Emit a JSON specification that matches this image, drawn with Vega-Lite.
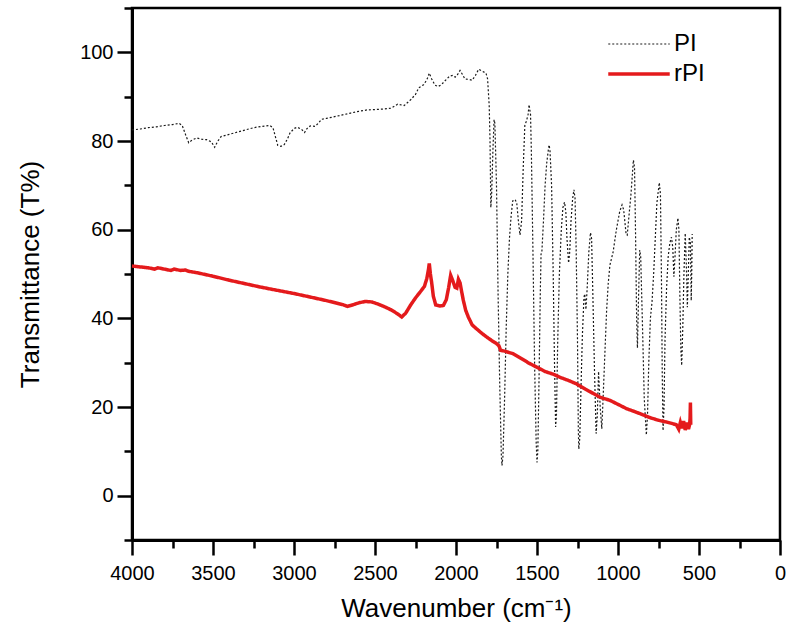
{
  "$schema": "https://vega.github.io/schema/vega-lite/v6.json",
  "width": 648,
  "height": 532,
  "autosize": {"type": "none"},
  "padding": {"left": 132, "top": 8, "right": 8, "bottom": 97},
  "background": "white",
  "config": {
    "font": "Liberation Sans",
    "view": {"stroke": "black", "strokeWidth": 2.5},
    "axis": {
      "grid": false,
      "domainColor": "#000000",
      "domainWidth": 3,
      "labelColor": "#000000",
      "labelFontSize": 20,
      "labelFlush": false,
      "labelOverlap": false,
      "titleColor": "#000000",
      "titleFontSize": 26,
      "titleFontWeight": "normal"
    },
    "legend": {
      "orient": "none",
      "legendX": 495,
      "legendY": 24,
      "symbolType": "M-3,0H3",
      "symbolSize": 420,
      "labelFontSize": 24,
      "labelColor": "black",
      "labelOffset": 23,
      "rowPadding": 6
    }
  },
  "datasets": {
    "spectra": [
      {"series": "PI", "wavenumber": 4000, "T": 82.5},
      {"series": "PI", "wavenumber": 3950, "T": 82.7},
      {"series": "PI", "wavenumber": 3900, "T": 83.0},
      {"series": "PI", "wavenumber": 3850, "T": 83.2},
      {"series": "PI", "wavenumber": 3800, "T": 83.5},
      {"series": "PI", "wavenumber": 3750, "T": 83.7},
      {"series": "PI", "wavenumber": 3710, "T": 84.0},
      {"series": "PI", "wavenumber": 3690, "T": 83.5},
      {"series": "PI", "wavenumber": 3670, "T": 81.5},
      {"series": "PI", "wavenumber": 3650, "T": 79.6},
      {"series": "PI", "wavenumber": 3630, "T": 80.2},
      {"series": "PI", "wavenumber": 3600, "T": 80.7},
      {"series": "PI", "wavenumber": 3570, "T": 80.4},
      {"series": "PI", "wavenumber": 3540, "T": 80.3},
      {"series": "PI", "wavenumber": 3510, "T": 79.8},
      {"series": "PI", "wavenumber": 3490, "T": 78.6},
      {"series": "PI", "wavenumber": 3470, "T": 80.0},
      {"series": "PI", "wavenumber": 3450, "T": 81.0},
      {"series": "PI", "wavenumber": 3400, "T": 81.5},
      {"series": "PI", "wavenumber": 3350, "T": 82.0},
      {"series": "PI", "wavenumber": 3300, "T": 82.5},
      {"series": "PI", "wavenumber": 3250, "T": 83.0},
      {"series": "PI", "wavenumber": 3200, "T": 83.3},
      {"series": "PI", "wavenumber": 3150, "T": 83.5},
      {"series": "PI", "wavenumber": 3130, "T": 83.0},
      {"series": "PI", "wavenumber": 3115, "T": 81.0},
      {"series": "PI", "wavenumber": 3100, "T": 79.0},
      {"series": "PI", "wavenumber": 3080, "T": 78.8},
      {"series": "PI", "wavenumber": 3060, "T": 79.2},
      {"series": "PI", "wavenumber": 3040, "T": 80.5},
      {"series": "PI", "wavenumber": 3025, "T": 81.8},
      {"series": "PI", "wavenumber": 3000, "T": 82.8},
      {"series": "PI", "wavenumber": 2980, "T": 83.1},
      {"series": "PI", "wavenumber": 2955, "T": 82.7},
      {"series": "PI", "wavenumber": 2935, "T": 81.9},
      {"series": "PI", "wavenumber": 2920, "T": 82.8},
      {"series": "PI", "wavenumber": 2900, "T": 83.4},
      {"series": "PI", "wavenumber": 2870, "T": 83.3},
      {"series": "PI", "wavenumber": 2850, "T": 84.0},
      {"series": "PI", "wavenumber": 2830, "T": 84.9},
      {"series": "PI", "wavenumber": 2800, "T": 85.1},
      {"series": "PI", "wavenumber": 2760, "T": 85.4},
      {"series": "PI", "wavenumber": 2700, "T": 85.9},
      {"series": "PI", "wavenumber": 2650, "T": 86.3},
      {"series": "PI", "wavenumber": 2600, "T": 86.7},
      {"series": "PI", "wavenumber": 2550, "T": 87.0},
      {"series": "PI", "wavenumber": 2500, "T": 87.1},
      {"series": "PI", "wavenumber": 2450, "T": 87.2},
      {"series": "PI", "wavenumber": 2400, "T": 87.4},
      {"series": "PI", "wavenumber": 2360, "T": 88.3},
      {"series": "PI", "wavenumber": 2320, "T": 88.0},
      {"series": "PI", "wavenumber": 2280, "T": 89.3},
      {"series": "PI", "wavenumber": 2250, "T": 90.5},
      {"series": "PI", "wavenumber": 2230, "T": 92.0},
      {"series": "PI", "wavenumber": 2200, "T": 92.7},
      {"series": "PI", "wavenumber": 2180, "T": 93.8},
      {"series": "PI", "wavenumber": 2165, "T": 95.3},
      {"series": "PI", "wavenumber": 2150, "T": 94.0},
      {"series": "PI", "wavenumber": 2130, "T": 92.6},
      {"series": "PI", "wavenumber": 2110, "T": 92.3},
      {"series": "PI", "wavenumber": 2090, "T": 92.7},
      {"series": "PI", "wavenumber": 2070, "T": 93.5},
      {"series": "PI", "wavenumber": 2040, "T": 94.6},
      {"series": "PI", "wavenumber": 2020, "T": 94.8},
      {"series": "PI", "wavenumber": 2005, "T": 94.4},
      {"series": "PI", "wavenumber": 1990, "T": 95.0},
      {"series": "PI", "wavenumber": 1975, "T": 95.9},
      {"series": "PI", "wavenumber": 1960, "T": 95.0},
      {"series": "PI", "wavenumber": 1945, "T": 94.0},
      {"series": "PI", "wavenumber": 1920, "T": 93.9},
      {"series": "PI", "wavenumber": 1900, "T": 93.7},
      {"series": "PI", "wavenumber": 1880, "T": 94.8},
      {"series": "PI", "wavenumber": 1860, "T": 96.2},
      {"series": "PI", "wavenumber": 1840, "T": 95.8},
      {"series": "PI", "wavenumber": 1815, "T": 95.3},
      {"series": "PI", "wavenumber": 1805, "T": 94.0},
      {"series": "PI", "wavenumber": 1795, "T": 88.0},
      {"series": "PI", "wavenumber": 1790, "T": 80.0},
      {"series": "PI", "wavenumber": 1785, "T": 65.0},
      {"series": "PI", "wavenumber": 1780, "T": 68.0},
      {"series": "PI", "wavenumber": 1772, "T": 78.0},
      {"series": "PI", "wavenumber": 1765, "T": 84.8},
      {"series": "PI", "wavenumber": 1760, "T": 84.0},
      {"series": "PI", "wavenumber": 1750, "T": 70.0},
      {"series": "PI", "wavenumber": 1740, "T": 45.0},
      {"series": "PI", "wavenumber": 1730, "T": 25.0},
      {"series": "PI", "wavenumber": 1720, "T": 9.0},
      {"series": "PI", "wavenumber": 1716, "T": 6.8},
      {"series": "PI", "wavenumber": 1710, "T": 9.0},
      {"series": "PI", "wavenumber": 1700, "T": 22.0},
      {"series": "PI", "wavenumber": 1690, "T": 38.0},
      {"series": "PI", "wavenumber": 1680, "T": 50.0},
      {"series": "PI", "wavenumber": 1670, "T": 58.0},
      {"series": "PI", "wavenumber": 1660, "T": 63.0},
      {"series": "PI", "wavenumber": 1650, "T": 66.5},
      {"series": "PI", "wavenumber": 1635, "T": 66.8},
      {"series": "PI", "wavenumber": 1625, "T": 66.0},
      {"series": "PI", "wavenumber": 1615, "T": 62.0},
      {"series": "PI", "wavenumber": 1605, "T": 58.8},
      {"series": "PI", "wavenumber": 1595, "T": 62.0},
      {"series": "PI", "wavenumber": 1585, "T": 74.0},
      {"series": "PI", "wavenumber": 1575, "T": 83.6},
      {"series": "PI", "wavenumber": 1565, "T": 84.5},
      {"series": "PI", "wavenumber": 1555, "T": 86.0},
      {"series": "PI", "wavenumber": 1549, "T": 88.2},
      {"series": "PI", "wavenumber": 1540, "T": 86.0},
      {"series": "PI", "wavenumber": 1535, "T": 78.0},
      {"series": "PI", "wavenumber": 1525, "T": 55.0},
      {"series": "PI", "wavenumber": 1515, "T": 30.0},
      {"series": "PI", "wavenumber": 1505, "T": 12.0},
      {"series": "PI", "wavenumber": 1500, "T": 7.5},
      {"series": "PI", "wavenumber": 1495, "T": 10.0},
      {"series": "PI", "wavenumber": 1488, "T": 25.0},
      {"series": "PI", "wavenumber": 1480, "T": 45.0},
      {"series": "PI", "wavenumber": 1475, "T": 54.5},
      {"series": "PI", "wavenumber": 1470, "T": 55.0},
      {"series": "PI", "wavenumber": 1460, "T": 62.0},
      {"series": "PI", "wavenumber": 1450, "T": 70.0},
      {"series": "PI", "wavenumber": 1440, "T": 75.0},
      {"series": "PI", "wavenumber": 1430, "T": 78.0},
      {"series": "PI", "wavenumber": 1426, "T": 79.1},
      {"series": "PI", "wavenumber": 1420, "T": 78.0},
      {"series": "PI", "wavenumber": 1410, "T": 70.0},
      {"series": "PI", "wavenumber": 1400, "T": 50.0},
      {"series": "PI", "wavenumber": 1392, "T": 30.0},
      {"series": "PI", "wavenumber": 1385, "T": 15.5},
      {"series": "PI", "wavenumber": 1380, "T": 18.0},
      {"series": "PI", "wavenumber": 1372, "T": 35.0},
      {"series": "PI", "wavenumber": 1362, "T": 50.0},
      {"series": "PI", "wavenumber": 1350, "T": 60.0},
      {"series": "PI", "wavenumber": 1340, "T": 65.0},
      {"series": "PI", "wavenumber": 1330, "T": 66.2},
      {"series": "PI", "wavenumber": 1322, "T": 64.0},
      {"series": "PI", "wavenumber": 1315, "T": 58.0},
      {"series": "PI", "wavenumber": 1305, "T": 52.5},
      {"series": "PI", "wavenumber": 1298, "T": 55.0},
      {"series": "PI", "wavenumber": 1290, "T": 62.0},
      {"series": "PI", "wavenumber": 1280, "T": 67.0},
      {"series": "PI", "wavenumber": 1272, "T": 69.0},
      {"series": "PI", "wavenumber": 1265, "T": 67.0},
      {"series": "PI", "wavenumber": 1258, "T": 55.0},
      {"series": "PI", "wavenumber": 1250, "T": 35.0},
      {"series": "PI", "wavenumber": 1245, "T": 15.0},
      {"series": "PI", "wavenumber": 1242, "T": 10.5},
      {"series": "PI", "wavenumber": 1236, "T": 13.0},
      {"series": "PI", "wavenumber": 1228, "T": 25.0},
      {"series": "PI", "wavenumber": 1220, "T": 36.0},
      {"series": "PI", "wavenumber": 1210, "T": 44.8},
      {"series": "PI", "wavenumber": 1205, "T": 45.5},
      {"series": "PI", "wavenumber": 1198, "T": 42.0},
      {"series": "PI", "wavenumber": 1190, "T": 47.0},
      {"series": "PI", "wavenumber": 1180, "T": 55.0},
      {"series": "PI", "wavenumber": 1170, "T": 59.3},
      {"series": "PI", "wavenumber": 1163, "T": 58.0},
      {"series": "PI", "wavenumber": 1155, "T": 45.0},
      {"series": "PI", "wavenumber": 1145, "T": 28.0},
      {"series": "PI", "wavenumber": 1135, "T": 14.0},
      {"series": "PI", "wavenumber": 1128, "T": 18.0},
      {"series": "PI", "wavenumber": 1120, "T": 28.0},
      {"series": "PI", "wavenumber": 1110, "T": 20.0},
      {"series": "PI", "wavenumber": 1100, "T": 15.1},
      {"series": "PI", "wavenumber": 1092, "T": 22.0},
      {"series": "PI", "wavenumber": 1080, "T": 33.0},
      {"series": "PI", "wavenumber": 1070, "T": 42.0},
      {"series": "PI", "wavenumber": 1060, "T": 48.0},
      {"series": "PI", "wavenumber": 1050, "T": 52.0},
      {"series": "PI", "wavenumber": 1040, "T": 53.5},
      {"series": "PI", "wavenumber": 1030, "T": 55.0},
      {"series": "PI", "wavenumber": 1010, "T": 60.0},
      {"series": "PI", "wavenumber": 990, "T": 64.0},
      {"series": "PI", "wavenumber": 975, "T": 65.6},
      {"series": "PI", "wavenumber": 965, "T": 64.5},
      {"series": "PI", "wavenumber": 950, "T": 59.0},
      {"series": "PI", "wavenumber": 943, "T": 58.8},
      {"series": "PI", "wavenumber": 935, "T": 62.0},
      {"series": "PI", "wavenumber": 920, "T": 68.0},
      {"series": "PI", "wavenumber": 905, "T": 75.7},
      {"series": "PI", "wavenumber": 898, "T": 74.0},
      {"series": "PI", "wavenumber": 892, "T": 60.0},
      {"series": "PI", "wavenumber": 885, "T": 40.0},
      {"series": "PI", "wavenumber": 880, "T": 33.3},
      {"series": "PI", "wavenumber": 873, "T": 45.0},
      {"series": "PI", "wavenumber": 866, "T": 55.4},
      {"series": "PI", "wavenumber": 860, "T": 54.0},
      {"series": "PI", "wavenumber": 850, "T": 40.0},
      {"series": "PI", "wavenumber": 838, "T": 22.0},
      {"series": "PI", "wavenumber": 825, "T": 13.7},
      {"series": "PI", "wavenumber": 818, "T": 18.0},
      {"series": "PI", "wavenumber": 810, "T": 30.0},
      {"series": "PI", "wavenumber": 800, "T": 40.0},
      {"series": "PI", "wavenumber": 790, "T": 43.7},
      {"series": "PI", "wavenumber": 780, "T": 50.0},
      {"series": "PI", "wavenumber": 770, "T": 58.0},
      {"series": "PI", "wavenumber": 760, "T": 66.0},
      {"series": "PI", "wavenumber": 745, "T": 70.6},
      {"series": "PI", "wavenumber": 738, "T": 68.0},
      {"series": "PI", "wavenumber": 732, "T": 50.0},
      {"series": "PI", "wavenumber": 727, "T": 28.0},
      {"series": "PI", "wavenumber": 722, "T": 14.7},
      {"series": "PI", "wavenumber": 716, "T": 20.0},
      {"series": "PI", "wavenumber": 710, "T": 35.0},
      {"series": "PI", "wavenumber": 700, "T": 47.0},
      {"series": "PI", "wavenumber": 690, "T": 54.0},
      {"series": "PI", "wavenumber": 680, "T": 57.0},
      {"series": "PI", "wavenumber": 670, "T": 58.3},
      {"series": "PI", "wavenumber": 662, "T": 56.0},
      {"series": "PI", "wavenumber": 655, "T": 49.4},
      {"series": "PI", "wavenumber": 648, "T": 54.0},
      {"series": "PI", "wavenumber": 640, "T": 60.0},
      {"series": "PI", "wavenumber": 630, "T": 62.6},
      {"series": "PI", "wavenumber": 624, "T": 60.0},
      {"series": "PI", "wavenumber": 618, "T": 45.0},
      {"series": "PI", "wavenumber": 612, "T": 33.0},
      {"series": "PI", "wavenumber": 607, "T": 29.4},
      {"series": "PI", "wavenumber": 600, "T": 38.0},
      {"series": "PI", "wavenumber": 593, "T": 50.0},
      {"series": "PI", "wavenumber": 585, "T": 59.2},
      {"series": "PI", "wavenumber": 578, "T": 52.0},
      {"series": "PI", "wavenumber": 572, "T": 42.5},
      {"series": "PI", "wavenumber": 566, "T": 50.0},
      {"series": "PI", "wavenumber": 560, "T": 58.3},
      {"series": "PI", "wavenumber": 553, "T": 57.0},
      {"series": "PI", "wavenumber": 548, "T": 44.0},
      {"series": "PI", "wavenumber": 545, "T": 50.0},
      {"series": "PI", "wavenumber": 542, "T": 59.0},
      {"series": "rPI", "wavenumber": 4000, "T": 51.8},
      {"series": "rPI", "wavenumber": 3950, "T": 51.6},
      {"series": "rPI", "wavenumber": 3900, "T": 51.4},
      {"series": "rPI", "wavenumber": 3860, "T": 51.1},
      {"series": "rPI", "wavenumber": 3840, "T": 51.4},
      {"series": "rPI", "wavenumber": 3800, "T": 51.1},
      {"series": "rPI", "wavenumber": 3760, "T": 50.8},
      {"series": "rPI", "wavenumber": 3740, "T": 51.1},
      {"series": "rPI", "wavenumber": 3700, "T": 50.8},
      {"series": "rPI", "wavenumber": 3670, "T": 50.9},
      {"series": "rPI", "wavenumber": 3650, "T": 50.6},
      {"series": "rPI", "wavenumber": 3600, "T": 50.3},
      {"series": "rPI", "wavenumber": 3500, "T": 49.5},
      {"series": "rPI", "wavenumber": 3400, "T": 48.6},
      {"series": "rPI", "wavenumber": 3300, "T": 47.8},
      {"series": "rPI", "wavenumber": 3200, "T": 47.0},
      {"series": "rPI", "wavenumber": 3100, "T": 46.3},
      {"series": "rPI", "wavenumber": 3000, "T": 45.6},
      {"series": "rPI", "wavenumber": 2900, "T": 44.8},
      {"series": "rPI", "wavenumber": 2800, "T": 44.0},
      {"series": "rPI", "wavenumber": 2700, "T": 43.1},
      {"series": "rPI", "wavenumber": 2670, "T": 42.7},
      {"series": "rPI", "wavenumber": 2640, "T": 43.0},
      {"series": "rPI", "wavenumber": 2600, "T": 43.5},
      {"series": "rPI", "wavenumber": 2560, "T": 43.8},
      {"series": "rPI", "wavenumber": 2520, "T": 43.7},
      {"series": "rPI", "wavenumber": 2480, "T": 43.2},
      {"series": "rPI", "wavenumber": 2440, "T": 42.6},
      {"series": "rPI", "wavenumber": 2400, "T": 41.9},
      {"series": "rPI", "wavenumber": 2360, "T": 41.0},
      {"series": "rPI", "wavenumber": 2335, "T": 40.3},
      {"series": "rPI", "wavenumber": 2310, "T": 41.2},
      {"series": "rPI", "wavenumber": 2280, "T": 43.0},
      {"series": "rPI", "wavenumber": 2250, "T": 44.6},
      {"series": "rPI", "wavenumber": 2220, "T": 46.0},
      {"series": "rPI", "wavenumber": 2195, "T": 47.2},
      {"series": "rPI", "wavenumber": 2180, "T": 49.0},
      {"series": "rPI", "wavenumber": 2170, "T": 51.0},
      {"series": "rPI", "wavenumber": 2165, "T": 52.4},
      {"series": "rPI", "wavenumber": 2158, "T": 50.0},
      {"series": "rPI", "wavenumber": 2150, "T": 48.0},
      {"series": "rPI", "wavenumber": 2140, "T": 45.0},
      {"series": "rPI", "wavenumber": 2125, "T": 43.0},
      {"series": "rPI", "wavenumber": 2100, "T": 42.8},
      {"series": "rPI", "wavenumber": 2078, "T": 42.9},
      {"series": "rPI", "wavenumber": 2060, "T": 44.2},
      {"series": "rPI", "wavenumber": 2045, "T": 47.0},
      {"series": "rPI", "wavenumber": 2033, "T": 49.7},
      {"series": "rPI", "wavenumber": 2020, "T": 48.5},
      {"series": "rPI", "wavenumber": 2006, "T": 47.0},
      {"series": "rPI", "wavenumber": 1995, "T": 46.8},
      {"series": "rPI", "wavenumber": 1985, "T": 48.8},
      {"series": "rPI", "wavenumber": 1975, "T": 48.0},
      {"series": "rPI", "wavenumber": 1965, "T": 46.0},
      {"series": "rPI", "wavenumber": 1955, "T": 44.1},
      {"series": "rPI", "wavenumber": 1940, "T": 41.8},
      {"series": "rPI", "wavenumber": 1924, "T": 40.3},
      {"series": "rPI", "wavenumber": 1900, "T": 38.5},
      {"series": "rPI", "wavenumber": 1872, "T": 37.6},
      {"series": "rPI", "wavenumber": 1840, "T": 36.6},
      {"series": "rPI", "wavenumber": 1811, "T": 35.8},
      {"series": "rPI", "wavenumber": 1780, "T": 35.0},
      {"series": "rPI", "wavenumber": 1750, "T": 34.3},
      {"series": "rPI", "wavenumber": 1735, "T": 33.8},
      {"series": "rPI", "wavenumber": 1725, "T": 32.8},
      {"series": "rPI", "wavenumber": 1700, "T": 32.6},
      {"series": "rPI", "wavenumber": 1646, "T": 32.0},
      {"series": "rPI", "wavenumber": 1600, "T": 31.0},
      {"series": "rPI", "wavenumber": 1550, "T": 29.9},
      {"series": "rPI", "wavenumber": 1502, "T": 29.0},
      {"series": "rPI", "wavenumber": 1450, "T": 28.0},
      {"series": "rPI", "wavenumber": 1400, "T": 27.4},
      {"series": "rPI", "wavenumber": 1358, "T": 26.7},
      {"series": "rPI", "wavenumber": 1300, "T": 25.9},
      {"series": "rPI", "wavenumber": 1255, "T": 25.2},
      {"series": "rPI", "wavenumber": 1200, "T": 24.0},
      {"series": "rPI", "wavenumber": 1150, "T": 23.0},
      {"series": "rPI", "wavenumber": 1111, "T": 22.2},
      {"series": "rPI", "wavenumber": 1050, "T": 21.5},
      {"series": "rPI", "wavenumber": 1000, "T": 20.6},
      {"series": "rPI", "wavenumber": 946, "T": 19.6},
      {"series": "rPI", "wavenumber": 900, "T": 19.0},
      {"series": "rPI", "wavenumber": 850, "T": 18.3},
      {"series": "rPI", "wavenumber": 802, "T": 17.6},
      {"series": "rPI", "wavenumber": 750, "T": 17.0},
      {"series": "rPI", "wavenumber": 700, "T": 16.6},
      {"series": "rPI", "wavenumber": 659, "T": 16.2},
      {"series": "rPI", "wavenumber": 640, "T": 16.0},
      {"series": "rPI", "wavenumber": 625, "T": 15.0},
      {"series": "rPI", "wavenumber": 615, "T": 16.5},
      {"series": "rPI", "wavenumber": 605, "T": 15.2},
      {"series": "rPI", "wavenumber": 595, "T": 16.8},
      {"series": "rPI", "wavenumber": 585, "T": 14.8},
      {"series": "rPI", "wavenumber": 575, "T": 16.5},
      {"series": "rPI", "wavenumber": 565, "T": 15.0},
      {"series": "rPI", "wavenumber": 558, "T": 16.0},
      {"series": "rPI", "wavenumber": 555, "T": 17.5},
      {"series": "rPI", "wavenumber": 553, "T": 21.0},
      {"series": "rPI", "wavenumber": 551, "T": 16.0}
    ]
  },
  "data": {"name": "spectra"},
  "resolve": {"axis": {"x": "independent", "y": "independent"}},
  "layer": [
    {
      "mark": {"type": "line", "opacity": 0},
      "encoding": {
        "x": {
          "field": "wavenumber",
          "type": "quantitative",
          "scale": {"domain": [0, 4000], "reverse": true, "nice": false, "zero": false},
          "axis": {
            "orient": "bottom",
            "title": null,
            "values": [250, 750, 1250, 1750, 2250, 2750, 3250, 3750],
            "labels": false,
            "domain": false,
            "tickColor": "black",
            "tickWidth": 2.5,
            "tickSize": 8
          }
        },
        "y": {
          "field": "T",
          "type": "quantitative",
          "scale": {"domain": [-10, 110], "nice": false, "zero": false},
          "axis": {
            "orient": "left",
            "title": null,
            "values": [-10, 10, 30, 50, 70, 90, 110],
            "labels": false,
            "domain": false,
            "tickColor": "black",
            "tickWidth": 2.5,
            "tickSize": 8
          }
        },
        "detail": {"field": "series", "type": "nominal"}
      }
    },
    {
      "mark": {"type": "line"},
      "encoding": {
        "x": {
          "field": "wavenumber",
          "type": "quantitative",
          "scale": {"domain": [0, 4000], "reverse": true, "nice": false, "zero": false},
          "axis": {
            "orient": "bottom",
            "title": "Wavenumber (cm⁻¹)",
            "values": [0, 500, 1000, 1500, 2000, 2500, 3000, 3500, 4000],
            "format": "d",
            "tickColor": "black",
            "tickWidth": 2.5,
            "tickSize": 15,
            "labelPadding": 8,
            "titlePadding": 12
          }
        },
        "y": {
          "field": "T",
          "type": "quantitative",
          "scale": {"domain": [-10, 110], "nice": false, "zero": false},
          "axis": {
            "orient": "left",
            "title": "Transmittance (T%)",
            "values": [0, 20, 40, 60, 80, 100],
            "format": "d",
            "tickColor": "black",
            "tickWidth": 2.5,
            "tickSize": 15,
            "labelPadding": 4,
            "titlePadding": 36
          }
        },
        "color": {
          "field": "series",
          "type": "nominal",
          "scale": {"domain": ["PI", "rPI"], "range": ["#1a1a1a", "#e41a1c"]},
          "legend": {"title": null}
        },
        "strokeDash": {
          "field": "series",
          "type": "nominal",
          "scale": {"domain": ["PI", "rPI"], "range": [[2, 2], [1, 0]]},
          "legend": {"title": null}
        },
        "strokeWidth": {
          "field": "series",
          "type": "nominal",
          "scale": {"domain": ["PI", "rPI"], "range": [1.2, 3.5]},
          "legend": {"title": null}
        }
      }
    }
  ]
}
